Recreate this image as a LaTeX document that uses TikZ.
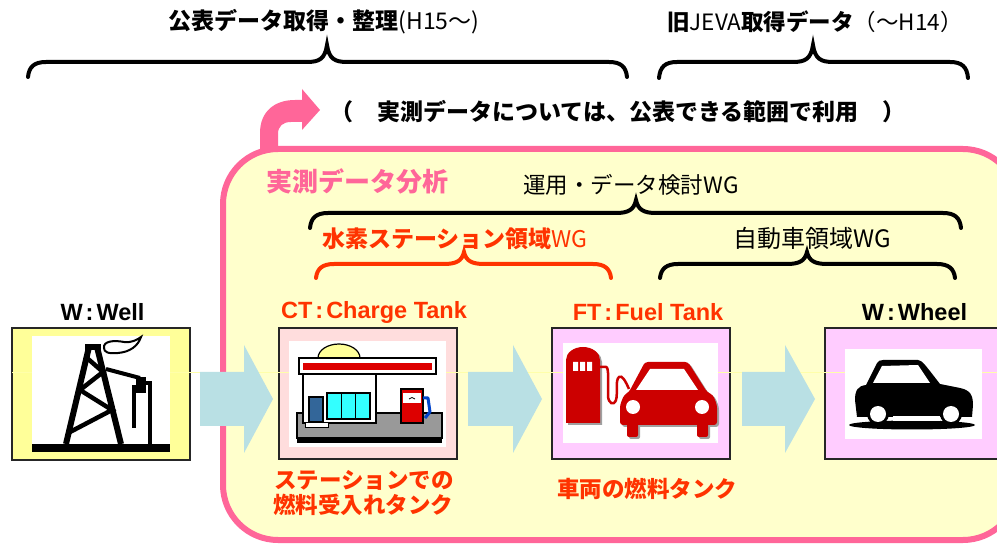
\documentclass[tikz,border=0pt]{standalone}
\usepackage{fontspec}
\setmainfont{Liberation Sans}
\newfontfamily\jp{Noto Sans CJK JP}
\newfontfamily\lat{Liberation Sans}
\definecolor{pinkline}{HTML}{FF6699}
\definecolor{redtxt}{HTML}{FF3300}
\definecolor{cream}{HTML}{FFFFCC}
\definecolor{wellfill}{HTML}{FFFF99}
\definecolor{ctfill}{HTML}{FFDDDD}
\definecolor{ftfill}{HTML}{FFCCFF}
\definecolor{flowblue}{HTML}{B9E0E4}
\definecolor{stgray}{HTML}{999999}
\definecolor{stred}{HTML}{DD0000}
\definecolor{domeyellow}{HTML}{FFFF99}
\definecolor{doorblue}{HTML}{336699}
\definecolor{wincyan}{HTML}{33FFFF}
\definecolor{nozzleblue}{HTML}{0044CC}
\definecolor{fuelred}{HTML}{CC0000}
\definecolor{shadowgray}{HTML}{A0A0A0}
\definecolor{guideyellow}{HTML}{FFFFAA}

% curly brace: options, x-left, x-right, x-tip, y-ends, y-line, y-tip
\newcommand\curlybrace[7]{%
  \draw[line width=4pt,line cap=round,#1]
    (#2,#5) .. controls (#2+1,#6+5) and (#2+6,#6) .. (#2+18,#6)
    -- (#4-20,#6) .. controls (#4-8,#6) and (#4-2,#6-3) .. (#4,#7)
    .. controls (#4+2,#6-3) and (#4+8,#6) .. (#4+20,#6)
    -- (#3-18,#6) .. controls (#3-6,#6) and (#3-1,#6+5) .. (#3,#5);}

% block arrow: left end, head base, tip
\newcommand\blockarrow[3]{%
  \fill[flowblue] (#1,372) -- (#2,372) -- (#2,345) -- (#3,399)
    -- (#2,453) -- (#2,426) -- (#1,426) -- cycle;}

\begin{document}
\begin{tikzpicture}[x=1pt,y=-1pt,
  txt/.style={inner sep=0pt,anchor=center},
  jb/.style={txt,font=\jp\bfseries\fontsize{22.5}{26}\selectfont},
  jr/.style={txt,font=\jp\fontsize{22.5}{26}\selectfont},
  boxlabel/.style={txt,font=\lat\bfseries\fontsize{23.5}{27}\selectfont},
  stagebox/.style={draw=black!85,line width=1.5pt,minimum width=178pt,minimum height=131pt,inner sep=0pt},
  region/.style={draw=pinkline,line width=6pt,fill=cream,rounded corners=55pt,
    minimum width=795pt,minimum height=391pt,inner sep=0pt}]
\useasboundingbox (0,0) rectangle (997,545);
\clip (0,0) rectangle (997,545);
\fill[white] (0,0) rectangle (997,545);

% ---------- headings over the two data sources ----------
\node[txt] (pubdata) at (324,22) {{\jp\bfseries\fontsize{23}{27}\selectfont 公表データ取得・整理}{\jp\fontsize{23}{27}\selectfont (H15～)}};
\node[txt] (jevadata) at (815,22) {{\jp\bfseries\fontsize{22.5}{26}\selectfont 旧}{\jp\fontsize{22.5}{26}\selectfont JEVA}{\jp\bfseries\fontsize{22.5}{26}\selectfont 取得データ}{\jp\fontsize{22.5}{26}\selectfont （～H14）}};
\curlybrace{black}{28}{627}{327}{77}{62}{45}
\curlybrace{black}{659}{968}{813}{78}{62}{45}

\node[txt,font=\jp\bfseries\fontsize{23}{27}\selectfont] (note) at (618,112) {（\hspace{24pt}実測データについては、公表できる範囲で利用\hspace{24pt}）};

% ---------- measured-data analysis region ----------
\fill[pinkline] (260,152) -- (260,133) .. controls (260,112) and (274,100) .. (295,100)
  -- (302,100) -- (302,89) -- (320,110) -- (302,130) -- (302,122) -- (291,122)
  .. controls (283,122) and (278,126) .. (278,134) -- (278,152) -- cycle;
\node[region] (analysis) at (620.5,344.5) {};

\node[txt,font=\jp\bfseries\fontsize{26}{30}\selectfont,text=pinkline] (atitle) at (357,181) {実測データ分析};
\node[jr] (opwg) at (631,185) {運用・データ検討WG};
\curlybrace{black}{310}{961}{636}{228}{213}{200}

\node[txt,text=redtxt] (h2wg) at (455,239) {{\jp\bfseries\fontsize{23}{27}\selectfont 水素ステーション領域}{\jp\fontsize{23}{27}\selectfont WG}};
\curlybrace{redtxt}{316}{611}{464}{278}{264}{252}
\node[txt,font=\jp\fontsize{24}{28}\selectfont] (carwg) at (812,238) {自動車領域WG};
\curlybrace{black}{660}{955}{807}{278}{264}{252}

% ---------- stage boxes ----------
\node[stagebox,fill=wellfill,minimum height=132pt] (well) at (101,394) {};
\node[stagebox,fill=ctfill] (ct) at (368,393.5) {};
\node[stagebox,fill=ftfill] (ft) at (641,393.5) {};
\node[stagebox,fill=ftfill] (wheel) at (914,393.5) {};

% faint guide line across the stages
\draw[guideyellow,line width=0.6pt] (12,372) -- (997,372);

\node[boxlabel] (lwell) at (102.5,312) {W\hspace{3pt}:\hspace{3pt}Well};
\node[boxlabel,text=redtxt] (lct) at (374,312) {CT\hspace{3pt}:\hspace{3pt}Charge Tank};
\node[boxlabel,text=redtxt] (lft) at (648,312) {FT\hspace{3pt}:\hspace{3pt}Fuel Tank};
\node[boxlabel] (lwheel) at (914.5,312) {W\hspace{3pt}:\hspace{3pt}Wheel};

% white picture panels
\fill[white] (32,336) rectangle (170,452);
\fill[white] (289,341) rectangle (446,447);
\fill[white] (563,343) rectangle (718,443);
\fill[white] (845,349) rectangle (982,439);

% oil derrick
\begin{scope}[black]
  \fill (32,444) rectangle (170,452);
  \draw[line width=6pt] (89,347) -- (66,444);
  \draw[line width=6pt] (97,347) -- (121,444);
  \fill (85,344) rectangle (101,350);
  \draw[line width=4.5pt] (87,358) -- (103,372) -- (80,390) -- (112,410) -- (70,432);
  \draw[line width=2pt,fill=white] (104,348) .. controls (103,341) and (114,340) .. (124,342)
    .. controls (131,343) and (137,340) .. (141,337)
    .. controls (138,346) and (130,352) .. (118,353)
    .. controls (108,354) and (104,352) .. (104,348) -- cycle;
  \draw[line width=4pt] (106,369) -- (140,378);
  \fill (136,377) rectangle (146,393);
  \draw[line width=3.5pt] (134,385) -- (134,428);
  \draw[line width=3.5pt] (146,383) -- (150,383) -- (150,445);
\end{scope}

% filling station
\filldraw[fill=stgray,draw=black,line width=1.5pt] (297,413) rectangle (442,438);
\fill[black] (297,437) rectangle (442,443);
\filldraw[fill=domeyellow,line width=1.2pt] (318,358) arc[start angle=180,end angle=0,x radius=21pt,y radius=14pt] -- cycle;
\filldraw[fill=white,line width=1.5pt] (303,374) rectangle (376,423);
\filldraw[fill=white,line width=1.5pt] (299,358) rectangle (436,374);
\fill[stred] (303,363) rectangle (432,370);
\filldraw[fill=doorblue,line width=1.2pt] (309,397) rectangle (323,422);
\filldraw[fill=wincyan,line width=2.5pt] (327,393) rectangle (370,419);
\draw[line width=1.5pt] (341.3,393) -- (341.3,419) (355.7,393) -- (355.7,419);
\filldraw[fill=white,line width=0.8pt] (305,422) rectangle (328,427);
\filldraw[fill=stred,line width=1.2pt] (401,389) rectangle (423,423);
\fill[white] (403,393) rectangle (421,403);
\draw[line width=0.8pt] (409,399) .. controls (411,397) and (413,397) .. (415,399);
\draw[nozzleblue,line width=3pt,line join=round] (423,398) -- (428,398) -- (430,412) -- (425,418);

% pump and car, front view
\begin{scope}[shift={(2,2)},shadowgray]
  \fill (566,423) -- (566,360) arc[start angle=180,end angle=0,x radius=17pt,y radius=13pt] -- (600,423) -- cycle;
  \fill[rounded corners=3pt] (645,362) -- (688,362) -- (707,392) -- (713,395) -- (717,405) -- (717,425) -- (620,425) -- (620,405) -- (624,395) -- (629,392) -- cycle;
  \fill[rounded corners=2pt] (627,420) rectangle (638,437) (697,420) rectangle (708,437);
\end{scope}
\begin{scope}[fuelred]
  \fill (566,423) -- (566,360) arc[start angle=180,end angle=0,x radius=17pt,y radius=13pt] -- (600,423) -- cycle;
  \fill[white] (573,362) rectangle (578,371) (580,362) rectangle (585,371) (587,362) rectangle (592,371);
  \draw[line width=2.5pt] (600,367) -- (606,367) .. controls (609,367) and (608,380) .. (608,395)
    .. controls (608,404) and (614,406) .. (616,400) .. controls (618,394) and (615,380) .. (619,377)
    .. controls (622,375) and (625,380) .. (629,389);
  \fill[rounded corners=3pt] (645,362) -- (688,362) -- (707,392) -- (713,395) -- (717,405) -- (717,425) -- (620,425) -- (620,405) -- (624,395) -- (629,392) -- cycle;
  \fill[rounded corners=2pt] (627,420) rectangle (638,437) (697,420) rectangle (708,437);
  \fill[white] (650,369) -- (684,369) -- (698,390) -- (636,390) -- cycle;
  \fill[white] (633,407) circle[radius=7pt] (702,407) circle[radius=7pt];
\end{scope}

% car, side view
\fill[black] (912,425) ellipse[x radius=63pt,y radius=4.5pt];
\fill[black] (857,417) -- (855,400) .. controls (855,390) and (858,386) .. (866,385)
  -- (877,363) .. controls (878,361) and (880,360) .. (883,360) -- (918,360)
  .. controls (922,360) and (926,366) .. (940,384) -- (960,388)
  .. controls (970,390) and (973,395) .. (973,405) -- (972,417) -- cycle;
\fill[white] (873,383) -- (882,366) -- (918,365) -- (930,383) -- cycle;
\fill[white] (893,416) rectangle (940,421);
\fill[black] (878,414) circle[radius=11pt] (951,414) circle[radius=11pt];
\fill[white] (878,414) circle[radius=8pt] (951,414) circle[radius=8pt];

% flow arrows between stages
\blockarrow{200}{244}{273}
\blockarrow{468}{513}{542}
\blockarrow{742}{785}{815}

% captions under the tanks
\node[jb,text=redtxt] (ctcap1) at (364,480) {ステーションでの};
\node[jb,text=redtxt] (ctcap2) at (363,505) {燃料受入れタンク};
\node[jb,text=redtxt] (ftcap) at (647,489) {車両の燃料タンク};
\end{tikzpicture}
\end{document}
